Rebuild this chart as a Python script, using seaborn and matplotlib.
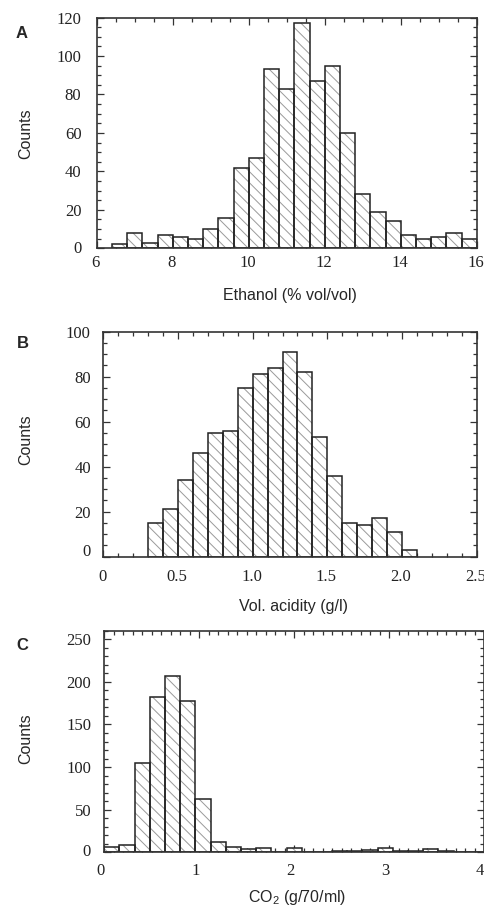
import numpy as np
import pandas as pd
import matplotlib
matplotlib.use("Agg")
import matplotlib.pyplot as plt
import matplotlib.transforms as mtransforms
from matplotlib.ticker import MultipleLocator, FixedLocator
from matplotlib import font_manager
import seaborn as sns

# ---------------- data ----------------
ethanol_bin_start = 6.4
ethanol_bin_width = 0.4
ethanol_counts = [2, 8, 3, 7, 6, 5, 10, 16, 42, 47, 93, 83, 117, 87, 95, 60,
                  28, 19, 14, 7, 5, 6, 8, 5]

acidity_bin_start = 0.3
acidity_bin_width = 0.1
acidity_counts = [15, 21, 34, 46, 55, 56, 75, 81, 84, 91, 82, 53, 36, 15, 14,
                  17, 11, 3]

co2_bin_start = 0.0
co2_bin_width = 0.16
co2_counts = [6, 9, 105, 182, 207, 178, 62, 12, 6, 4, 5, 0, 5, 0, 0, 1, 1, 3,
              5, 1, 1, 4, 1, 0, 0]

ethanol_xticklabels = ["6", "8", "10", "12", "14", "16"]
acidity_xticklabels = ["0", "0.5", "1.0", "1.5", "2.0", "2.5"]
co2_xticklabels = ["0", "1", "2", "3", "4"]

x_labels = ["Ethanol (% vol/vol)", "Vol. acidity (g/l)", "CO$_2$ (g/70/ml)"]
panel_letters = ["A", "B", "C"]
y_label = "Counts"

# ---------------- style ----------------
names = {f.name for f in font_manager.fontManager.ttflist}
if "Liberation Sans Narrow" in names:
    SANS, LABEL_SIZE = "Liberation Sans Narrow", 13.2
else:
    SANS, LABEL_SIZE = "Liberation Sans", 11.5
SERIF = "Liberation Serif" if "Liberation Serif" in names else "DejaVu Serif"

sns.set_style("ticks")
plt.rcParams["font.family"] = [SANS, "DejaVu Sans"]
plt.rcParams["mathtext.fontset"] = "custom"
plt.rcParams["mathtext.rm"] = SANS
plt.rcParams["hatch.linewidth"] = 0.7

EDGE = "#222222"
HATCH_COL = "#9a9a9a"
SPINE = "#333333"

fig = plt.figure(figsize=(4.85, 9.08), dpi=100)
W, H = 485, 908

def add_axes(left, top, right, bottom):
    return fig.add_axes([left / W, 1 - bottom / H, (right - left) / W, (bottom - top) / H])

axA = add_axes(96.7, 17.5, 476.7, 248.3)
axB = add_axes(103.3, 331.7, 476.7, 556.7)
axC = add_axes(104.3, 630.7, 484.0, 852.3)

panels = [
    dict(ax=axA, start=ethanol_bin_start, width=ethanol_bin_width, counts=ethanol_counts,
         xlim=(6, 16), ylim=(0, 120), xmaj=2, xmin=0.5, ymaj=20, ymin=5,
         xticklabels=ethanol_xticklabels, xshift=-1, zero_lift=1,
         xpad=5.0, ypad=11.0,
         xlab_pos=(0.509, -0.173), ylab_pos=(-0.168, 0.498),
         letter_xy=(21.7, 33.3)),
    dict(ax=axB, start=acidity_bin_start, width=acidity_bin_width, counts=acidity_counts,
         xlim=(0, 2.5), ylim=(0, 100), xmaj=0.5, xmin=0.1, ymaj=20, ymin=5,
         xticklabels=acidity_xticklabels, xshift=-1, zero_lift=7,
         xpad=9.0, ypad=9.0,
         xlab_pos=(0.509, -0.188), ylab_pos=(-0.188, 0.519),
         letter_xy=(22.7, 343.3)),
    dict(ax=axC, start=co2_bin_start, width=co2_bin_width, counts=co2_counts,
         xlim=(0, 4), ylim=(0, 260), xmaj=1, xmin=0.1, ymaj=50, ymin=10,
         xticklabels=co2_xticklabels, xshift=-4, zero_lift=2,
         xpad=7.5, ypad=9.5,
         xlab_pos=(0.507, -0.161), ylab_pos=(-0.188, 0.514),
         letter_xy=(22.7, 645.0)),
]

for p, xl, letter in zip(panels, x_labels, panel_letters):
    ax = p["ax"]
    counts = np.asarray(p["counts"], dtype=float)
    edges = (p["start"] + p["width"] * np.arange(len(counts) + 1)).tolist()
    centers = [(a + b) / 2 for a, b in zip(edges[:-1], edges[1:])]
    df = pd.DataFrame({"value": centers, "count": counts})

    # hatched fill layer
    sns.histplot(data=df, x="value", weights="count", bins=edges, ax=ax,
                 element="bars", fill=True, color="white", alpha=1,
                 edgecolor=HATCH_COL, linewidth=0, hatch="\\\\\\")
    # outline layer
    sns.histplot(data=df, x="value", weights="count", bins=edges, ax=ax,
                 element="bars", fill=False, color=EDGE, alpha=1,
                 linewidth=1.1)

    ax.set_xlim(*p["xlim"])
    ax.set_ylim(*p["ylim"])
    ax.xaxis.set_minor_locator(MultipleLocator(p["xmin"]))
    yt = np.arange(p["ylim"][0], p["ylim"][1] + 1e-9, p["ymaj"])
    ax.yaxis.set_major_locator(FixedLocator(yt))
    ax.yaxis.set_minor_locator(MultipleLocator(p["ymin"]))
    xt = np.arange(p["xlim"][0], p["xlim"][1] + 1e-9, p["xmaj"])
    ax.set_xticks(xt, p["xticklabels"])

    for side in ["left", "right", "top", "bottom"]:
        ax.spines[side].set_visible(True)
        ax.spines[side].set_color(SPINE)
        ax.spines[side].set_linewidth(1.2)

    ax.tick_params(which="both", direction="in", top=True, right=True,
                   color=SPINE, width=0.9)
    ax.tick_params(which="major", length=5)
    ax.tick_params(which="minor", length=2.8)
    ax.tick_params(axis="x", which="major", pad=p["xpad"])
    ax.tick_params(axis="y", which="major", pad=p["ypad"])

    ax.set_xlabel(xl, fontsize=LABEL_SIZE)
    ax.set_ylabel(y_label, fontsize=LABEL_SIZE)
    ax.xaxis.set_label_coords(*p["xlab_pos"])
    ax.yaxis.set_label_coords(*p["ylab_pos"])
    ax.set_facecolor("white")

    lx, ly = p["letter_xy"]
    fig.text(lx / W, 1 - ly / H, letter, ha="center", va="center",
             fontsize=12, fontweight="bold", family=["Liberation Sans", "DejaVu Sans"])

fig.canvas.draw()

for p in panels:
    ax = p["ax"]
    shift = mtransforms.ScaledTranslation(p["xshift"] / 100, 0, fig.dpi_scale_trans)
    for lab in ax.get_xticklabels():
        lab.set_fontfamily(SERIF)
        lab.set_fontsize(12)
        lab.set_color("#222222")
        lab.set_transform(lab.get_transform() + shift)
    lift = mtransforms.ScaledTranslation(0, p["zero_lift"] / 100, fig.dpi_scale_trans)
    for lab in ax.get_yticklabels():
        lab.set_fontfamily(SERIF)
        lab.set_fontsize(12)
        lab.set_color("#222222")
        # the reference raises the bottom "0" label a little above the axis line
        if lab.get_text() == "0":
            lab.set_transform(lab.get_transform() + lift)

fig.savefig("out.png", dpi=100, facecolor="white")
